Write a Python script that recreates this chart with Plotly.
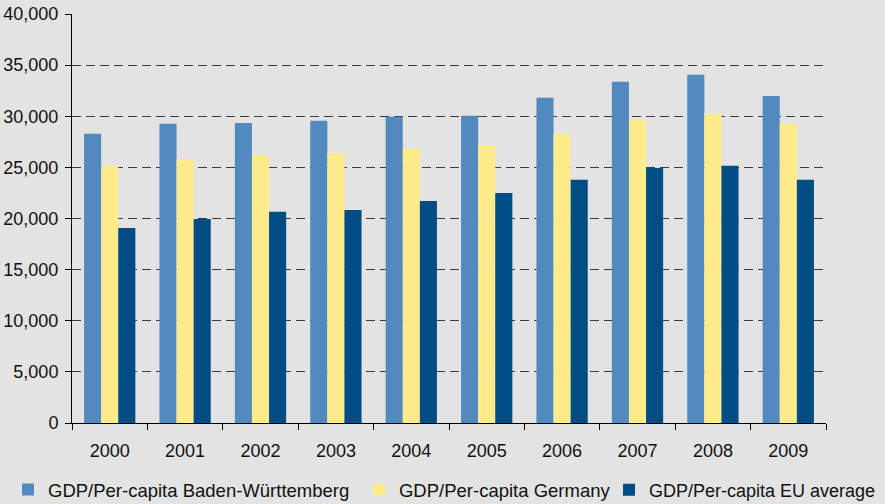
import plotly.graph_objects as go

years = ["2000", "2001", "2002", "2003", "2004", "2005", "2006", "2007", "2008", "2009"]
bw = [28300, 29260, 29350, 29550, 29940, 30040, 31800, 33370, 34050, 31990]
germany = [25150, 25830, 26120, 26350, 26810, 27200, 28280, 29650, 30240, 29260]
eu = [19080, 19960, 20650, 20840, 21720, 22500, 23780, 24950, 25150, 23780]
names = ["GDP/Per-capita Baden-Württemberg", "GDP/Per-capita Germany", "GDP/Per-capita EU average"]
colors = ["#5289be", "#ffeb8c", "#004c85"]
legend_ids = ["legend", "legend2", "legend3"]
legend_x = [-0.0849, 0.3806, 0.7122]

fig = go.Figure()
for name, vals, col, lid in zip(names, [bw, germany, eu], colors, legend_ids):
    fig.add_trace(go.Bar(x=years, y=vals, name=name, legend=lid,
                         marker=dict(color=col, line=dict(width=0))))

font = "Liberation Sans"
leg_common = dict(orientation="h", xanchor="left", y=-0.1638, yanchor="middle",
                  font=dict(family=font, size=18.5, color="#111111"),
                  bgcolor="rgba(0,0,0,0)", itemclick=False, borderwidth=0)
legends = {lid: dict(x=lx, **leg_common) for lid, lx in zip(legend_ids, legend_x)}
legends["legend3"]["font"] = dict(family=font, size=18, color="#111111")

fig.update_layout(
    width=885, height=504,
    margin=dict(l=72, r=59, t=14, b=81, autoexpand=False),
    paper_bgcolor="#e3e3e3", plot_bgcolor="#e3e3e3",
    barmode="group", bargap=0.32, bargroupgap=0,
    font=dict(family=font, size=18, color="#111111"),
    showlegend=True,
    xaxis=dict(type="category", showline=True, linecolor="#000000", linewidth=1,
               ticks="outside", tickson="boundaries", ticklen=6, tickcolor="#000000",
               showgrid=False, tickfont=dict(family=font, size=18), automargin=False,
               ticklabelstandoff=11),
    yaxis=dict(range=[0, 40000], tickvals=list(range(0, 40001, 5000)),
               tickformat=",d", showline=True, linecolor="#000000", linewidth=1,
               ticks="outside", ticklen=6, tickcolor="#000000",
               showgrid=True, gridcolor="#3a3a3a", gridwidth=1.2, griddash="9px,5px",
               zeroline=False, tickfont=dict(family=font, size=18), automargin=False,
               ticklabelstandoff=3),
    **legends,
)
fig.write_html("out.html")
